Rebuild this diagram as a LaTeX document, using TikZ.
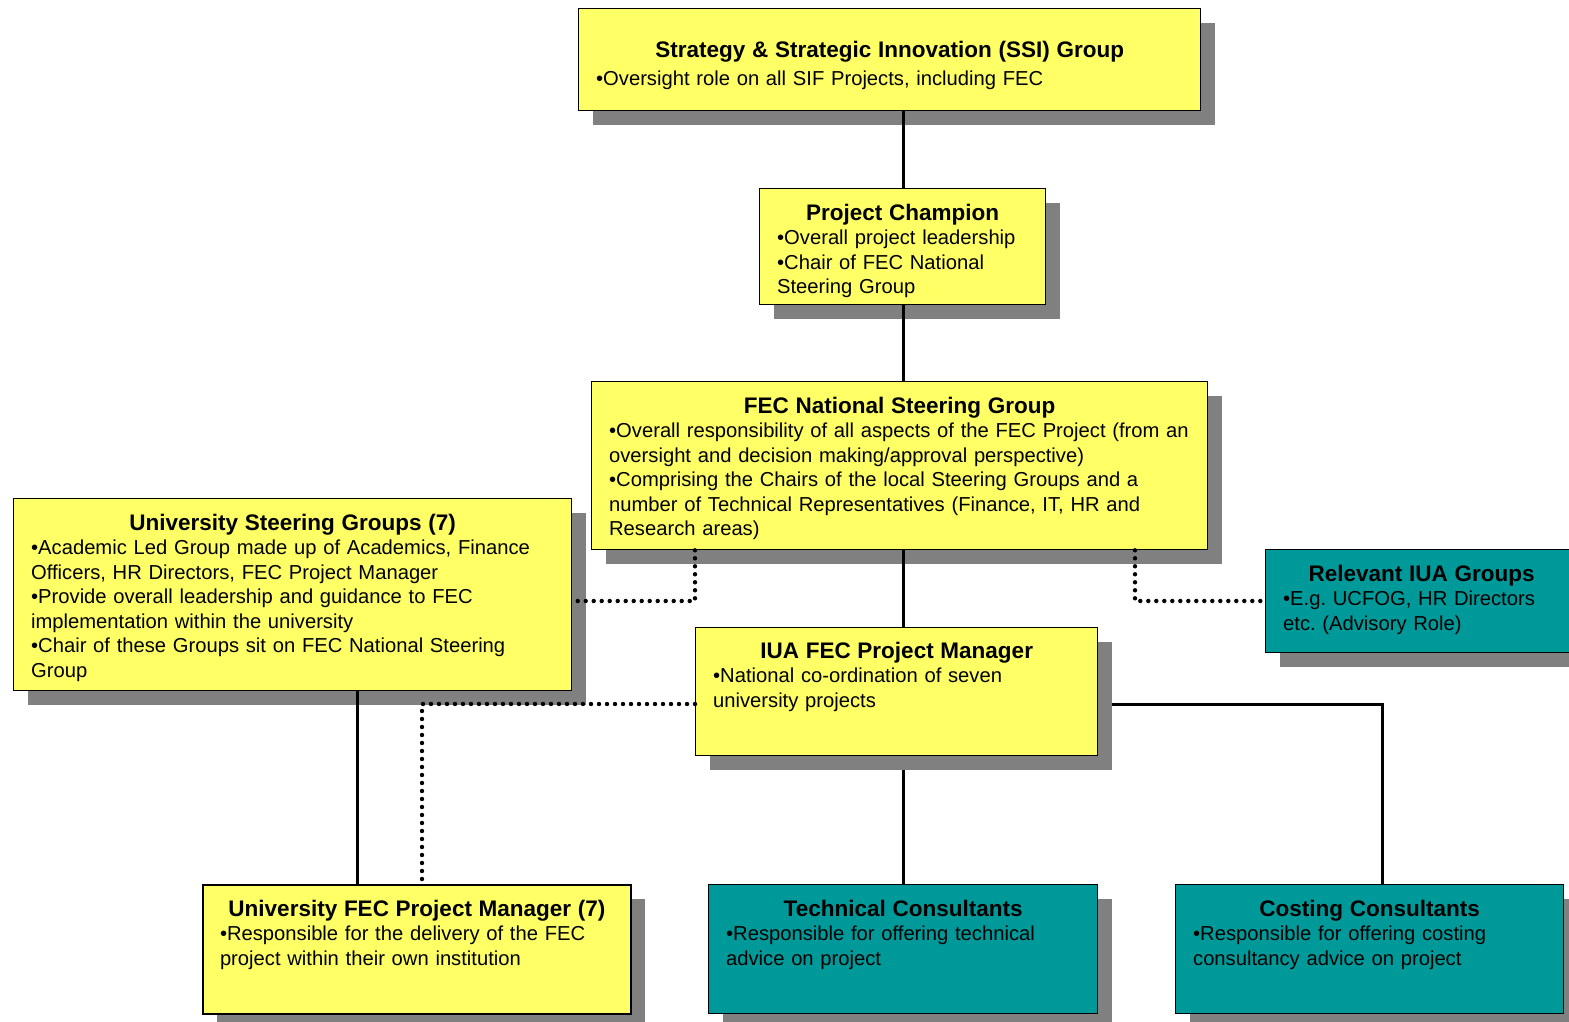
\documentclass[tikz,border=0pt]{standalone}
\usepackage{fontspec}
\setmainfont{Liberation Sans}
\usetikzlibrary{shadows,backgrounds,calc}
\definecolor{boxyellow}{HTML}{FFFF66}
\definecolor{boxteal}{HTML}{009999}
\definecolor{shadowgray}{HTML}{808080}
\frenchspacing
\newcommand\boxttl[1]{{\centering\fontsize{22.5}{24.5}\selectfont\bfseries\rule{0pt}{17pt}#1\par}\raggedright}
\newcommand\bl[1]{\mbox{#1}}
\begin{document}
\begin{tikzpicture}[x=1pt,y=-1pt,
 orgbox/.style={draw=black, line width=1.3pt, inner sep=0pt, anchor=north west,
   drop shadow={shadow xshift=14pt, shadow yshift=-14pt, fill=shadowgray, opacity=1}},
 ybox/.style={orgbox, fill=boxyellow},
 tbox/.style={orgbox, fill=boxteal},
 txt/.style={inner sep=0pt, anchor=north, font=\fontsize{20.2}{24.5}\selectfont\frenchspacing},
 conn/.style={line width=3pt},
 dotconn/.style={line width=4.4pt, line cap=round, dash pattern=on 0pt off 8pt},
]
\useasboundingbox (0,0) rectangle (1569,1022);

% boxes
\node[ybox, minimum width=622pt, minimum height=102pt] (ssi) at (578,8) {};
\node[ybox, minimum width=286pt, minimum height=116pt] (champ) at (759,188) {};
\node[ybox, minimum width=616pt, minimum height=168pt] (nsg) at (591,381) {};
\node[ybox, minimum width=558pt, minimum height=192pt] (usg) at (13,498) {};
\node[tbox, minimum width=312pt, minimum height=103pt] (iua) at (1265,549) {};
\node[ybox, minimum width=402pt, minimum height=128pt] (pm) at (695,627) {};
\node[ybox, minimum width=428pt, minimum height=129pt, line width=2pt] (ufpm) at (202,884) {};
\node[tbox, minimum width=389pt, minimum height=129pt] (tech) at (708,884) {};
\node[tbox, minimum width=388pt, minimum height=129pt] (cost) at (1175,884) {};

% texts
\node[txt, text width=587pt] (ssit) at ($(ssi.north)+(0,32)$)
 {\boxttl{Strategy \& Strategic Innovation (SSI) Group}\vspace{4pt}\bl{•Oversight role on all SIF Projects, including FEC}};
\node[txt, text width=251pt] (champt) at ($(champ.north)+(0,15)$)
 {\boxttl{Project Champion}\bl{•Overall project leadership}\\\bl{•Chair of FEC National}\\\bl{Steering Group}};
\node[txt, text width=581pt] (nsgt) at ($(nsg.north)+(0,15)$)
 {\boxttl{FEC National Steering Group}\bl{•Overall responsibility of all aspects of the FEC Project (from an}\\\bl{oversight and decision making/approval perspective)}\\\bl{•Comprising the Chairs of the local Steering Groups and a}\\\bl{number of Technical Representatives (Finance, IT, HR and}\\\bl{Research areas)}};
\node[txt, text width=523pt] (usgt) at ($(usg.north)+(0,15)$)
 {\boxttl{University Steering Groups (7)}\bl{•Academic Led Group made up of Academics, Finance}\\\bl{Officers, HR Directors, FEC Project Manager}\\\bl{•Provide overall leadership and guidance to FEC}\\\bl{implementation within the university}\\\bl{•Chair of these Groups sit on FEC National Steering}\\\bl{Group}};
\node[txt, text width=277pt] (iuat) at ($(iua.north)+(0,15)$)
 {\boxttl{Relevant IUA Groups}\bl{•E.g. UCFOG, HR Directors}\\\bl{etc. (Advisory Role)}};
\node[txt, text width=367pt] (pmt) at ($(pm.north)+(0,14)$)
 {\boxttl{IUA FEC Project Manager}\bl{•National co-ordination of seven}\\\bl{university projects}};
\node[txt, text width=394pt] (ufpmt) at ($(ufpm.north)+(0,15)$)
 {\boxttl{University FEC Project Manager (7)}\bl{•Responsible for the delivery of the FEC}\\\bl{project within their own institution}};
\node[txt, text width=354pt] (techt) at ($(tech.north)+(0,15)$)
 {\boxttl{Technical Consultants}\bl{•Responsible for offering technical}\\\bl{advice on project}};
\node[txt, text width=353pt] (costt) at ($(cost.north)+(0,15)$)
 {\boxttl{Costing Consultants}\bl{•Responsible for offering costing}\\\bl{consultancy advice on project}};

% helper coordinates
\coordinate (spine) at (903,0);
\coordinate (hy) at (0,704);
\coordinate (cx) at (1382,704);
\coordinate (dl) at (422,704);
\coordinate (us) at (357,0);
\coordinate (d1) at (695,601);
\coordinate (d2) at (1135,601);

% connectors
\draw[conn] (spine |- ssi.south) -- (spine |- champ.north);
\draw[conn] (spine |- champ.south) -- (spine |- nsg.north);
\draw[conn] (spine |- nsg.south) -- (spine |- pm.north);
\begin{scope}[on background layer]
\draw[conn] (spine |- pm.south) -- (spine |- tech.north);
\draw[conn] (pm.east |- hy) -- (cx) -- (cx |- cost.north);
\end{scope}
\draw[conn] (us |- usg.south) -- (us |- ufpm.north);
\draw[dotconn] (d1 |- nsg.south) -- (d1) -- (usg.east |- d1);
\draw[dotconn] (d2 |- nsg.south) -- (d2) -- (iua.west |- d2);
\draw[dotconn] (pm.west |- hy) -- (dl) -- (dl |- ufpm.north);
\end{tikzpicture}
\end{document}
